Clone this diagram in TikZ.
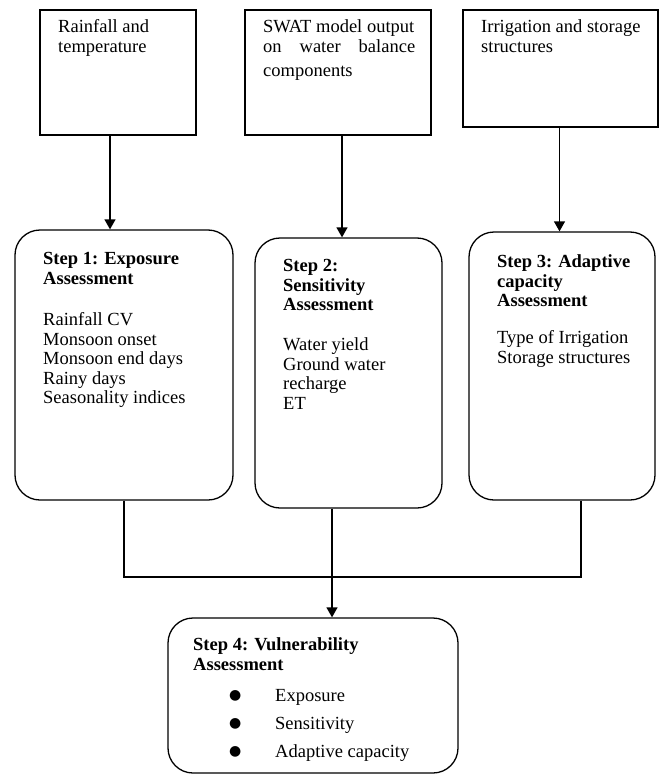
\documentclass[tikz,border=0pt]{standalone}
\usepackage{fontspec}
\setmainfont{Liberation Serif}
\newfontfamily\dejavu{DejaVu Sans}
\usetikzlibrary{arrows.meta,calc}
\newcommand{\bulitem}{\makebox[46pt][l]{\raisebox{2pt}{\dejavu\fontsize{14}{14}\selectfont ●}}}
\begin{document}
\begin{tikzpicture}[x=1pt,y=-1pt,
  every node/.style={font=\fontsize{18.5}{19.5}\selectfont},
  inbox/.style={draw, line width=1.3pt, inner sep=0pt},
  stepbox/.style={draw, line width=1.3pt, inner sep=0pt, rounded corners=25pt},
  txt/.style={anchor=north west, inner sep=0pt, align=left},
  conn/.style={line width=1.3pt},
  arr/.style={line width=1.3pt, -{Triangle[width=11pt,length=10pt]}}]
\useasboundingbox (0,0) rectangle (660,776);

% input boxes
\node[inbox, minimum width=156pt, minimum height=125pt] (A) at (118,72.5) {};
\node[inbox, minimum width=186pt, minimum height=125pt] (B) at (338,72.5) {};
\node[inbox, minimum width=195pt, minimum height=117pt] (C) at (560.5,68.5) {};

\node[txt] (At) at (58,19.5) {Rainfall and\\temperature};
\node[txt] (Bt) at (263,19.5) {SWAT model output\\\hbox to 152pt{on\hfill water\hfill balance}\\[5pt]components};
\node[txt] (Ct) at (481,19.5) {Irrigation and storage\\structures};

% step boxes
\node[stepbox, minimum width=218pt, minimum height=270pt] (S1) at (124,365) {};
\node[stepbox, minimum width=187pt, minimum height=270pt] (S2) at (348.5,373) {};
\node[stepbox, minimum width=186pt, minimum height=268pt] (S3) at (562,366) {};
\node[stepbox, minimum width=290pt, minimum height=155pt] (S4) at (313,695.5) {};

\node[txt] (S1t) at (43,252.5) {\textbf{Step 1: Exposure}\\\textbf{Assessment}\\[22pt]Rainfall CV\\Monsoon onset\\Monsoon end days\\Rainy days\\Seasonality indices};
\node[txt] (S2t) at (283,259.5) {\textbf{Step 2:}\\\textbf{Sensitivity}\\\textbf{Assessment}\\[20.5pt]Water yield\\Ground water\\recharge\\ET};
\node[txt] (S3t) at (497,254.5) {\textbf{Step 3: Adaptive}\\\textbf{capacity}\\\textbf{Assessment}\\[17.5pt]Type of Irrigation\\Storage structures};
\node[txt] (S4t) at (193,637.5) {\textbf{Step 4: Vulnerability}\\\textbf{Assessment}};
\node[txt] (S4l) at (229,689.5) {\bulitem Exposure\\[8.5pt]
\bulitem Sensitivity\\[8.5pt]
\bulitem Adaptive capacity};

% connectors
\draw[arr] ([xshift=-8pt]A.south) -- ([xshift=-8pt]A.south |- S1.north);
\draw[arr] ([xshift=4pt]B.south) -- ([xshift=4pt]B.south |- S2.north);
\draw[arr] ([xshift=-1pt]C.south) -- ([xshift=-1pt]C.south |- S3.north);

\coordinate (j) at (332,577);
\draw[conn] (S1.south) |- (j) -| ([xshift=19pt]S3.south);
\draw[arr] (S2.south -| j) -- (j |- S4.north);
\end{tikzpicture}
\end{document}
